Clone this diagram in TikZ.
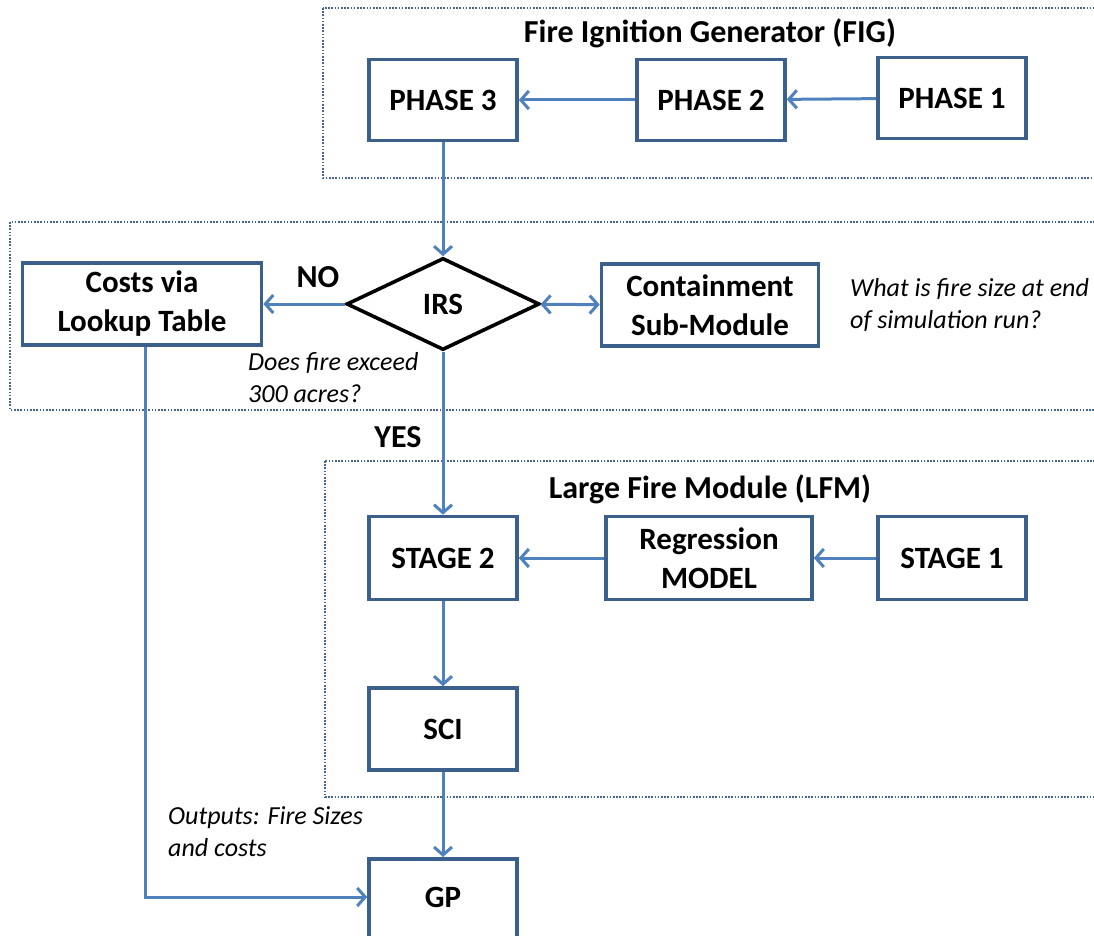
\documentclass[tikz,border=0pt]{standalone}
\usepackage{fontspec}
\setmainfont{Carlito}
\usetikzlibrary{arrows.meta,shapes.geometric}
\definecolor{boxblue}{RGB}{60,96,140}
\definecolor{arrblue}{RGB}{79,129,189}
\definecolor{dotblue}{RGB}{70,100,140}
\tikzset{
  tip/.tip={Straight Barb[length=8pt,width=18pt,line width=3pt]},
  blk/.style={draw=boxblue,line width=3.6pt,fill=white,align=center,font=\bfseries\fontsize{31}{39}\selectfont,inner sep=0pt},
  conn/.style={draw=arrblue,line width=3pt,-tip},
  grp/.style={draw=dotblue,line width=1.6pt,dash pattern=on 1.6pt off 1.6pt},
  note/.style={font=\itshape\fontsize{26}{32}\selectfont,align=left,anchor=west,inner sep=0pt},
  lbl/.style={font=\bfseries\fontsize{32}{38}\selectfont,inner sep=0pt}
}
\begin{document}
\begin{tikzpicture}[x=1pt,y=-1pt]
\useasboundingbox (0,0) rectangle (1094,936);
\clip (0,0) rectangle (1094,936);
% group frames
\draw[grp] (323,8) rectangle (1110,178);
\draw[grp] (10,222) rectangle (1110,410);
\draw[grp] (325,461) rectangle (1110,797);
\node[lbl] (figt) at (710,33) {Fire Ignition Generator (FIG)};
\node[lbl] (lfmt) at (710,489) {Large Fire Module (LFM)};
% nodes
\node[blk,minimum width=148pt,minimum height=81pt] (p3) at (443,100) {PHASE 3};
\node[blk,minimum width=148pt,minimum height=81pt] (p2) at (711,100) {PHASE 2};
\node[blk,minimum width=148pt,minimum height=81pt] (p1) at (952,98) {PHASE 1};
\node[draw=black,line width=3.6pt,diamond,aspect=2.1,minimum width=193pt,minimum height=92pt,inner sep=0pt,font=\bfseries\fontsize{31}{39}\selectfont] (irs) at (443,304) {IRS};
\node[blk,minimum width=239pt,minimum height=82pt] (cost) at (142,304) {Costs via\\Lookup Table};
\node[blk,minimum width=217pt,minimum height=82pt] (cont) at (710,305) {Containment\\Sub-Module};
\node[blk,minimum width=148pt,minimum height=83pt] (s2) at (443,558) {STAGE 2};
\node[blk,minimum width=206pt,minimum height=83pt] (reg) at (709,558) {Regression\\MODEL};
\node[blk,minimum width=148pt,minimum height=83pt] (s1) at (952,558) {STAGE 1};
\node[blk,minimum width=148pt,minimum height=82pt] (sci) at (443,729) {SCI};
\node[blk,minimum width=148pt,minimum height=120pt,anchor=north] (gp) at (443,857) {};
\node[blk,draw=none,fill=none] (gpt) at (443,897) {GP};
% labels
\node[lbl] (no) at (318,277) {NO};
\node[lbl] (yes) at (398,437) {YES};
\node[note] (q1) at (248,378) {Does fire exceed\\300 acres?};
\node[note] (q2) at (850,305) {What is fire size at end\\of simulation run?};
\node[note] (q3) at (168,832) {Outputs: Fire Sizes\\and costs};
% connectors
\draw[conn] (p1) -- (p2);
\draw[conn] (p2) -- (p3);
\draw[conn] (p3) -- (irs);
\draw[conn] (irs) -- (cost);
\draw[conn,tip-tip] (irs) -- (cont);
\draw[conn] (irs) -- (s2);
\draw[conn] (s1) -- (reg);
\draw[conn] (reg) -- (s2);
\draw[conn] (s2) -- (sci);
\draw[conn] (sci) -- (gp);
\coordinate (cb) at (145,897);
\draw[conn] (cost.south -| cb) -- (cb) -- (gp.west |- cb);
\end{tikzpicture}
\end{document}
